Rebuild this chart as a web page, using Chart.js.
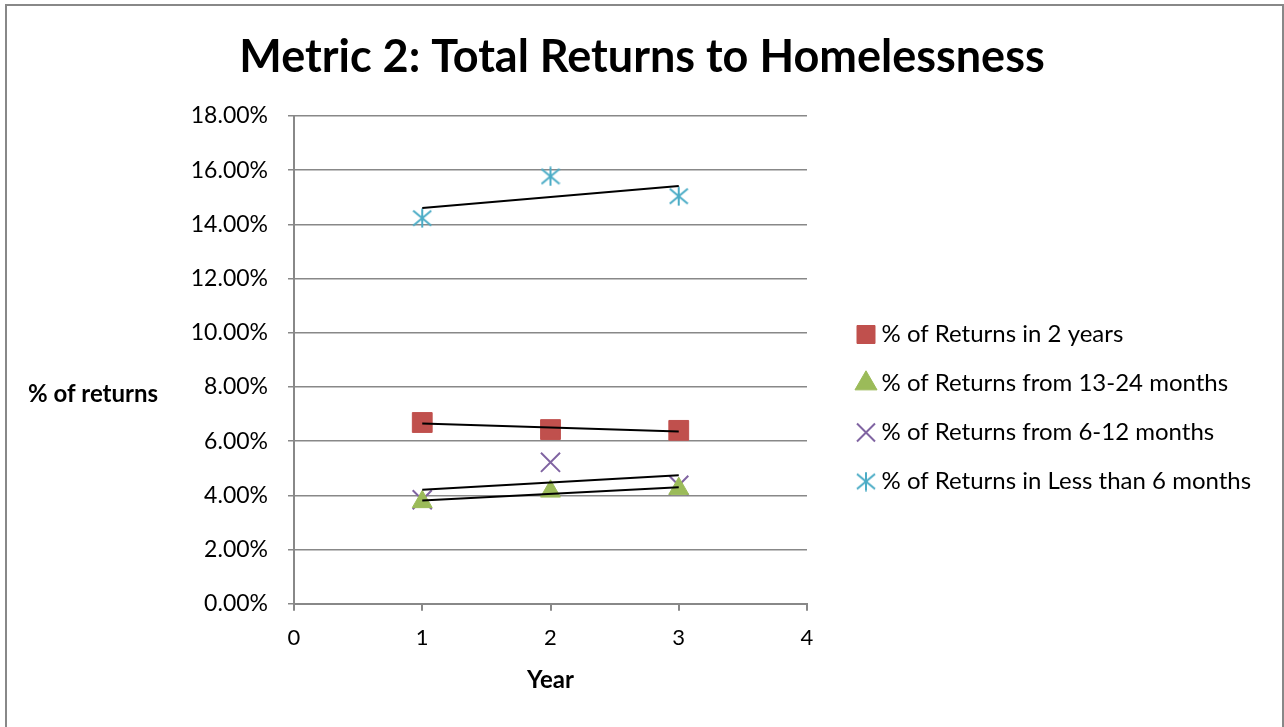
<!DOCTYPE html>
<html><head><meta charset="utf-8">
<script src="https://cdn.jsdelivr.net/npm/chart.js@4.4.1/dist/chart.umd.min.js"></script>
<style>
html,body{margin:0;padding:0;background:#fff;}
#wrap{position:relative;width:1284px;height:727px;overflow:hidden;}
#frame{position:absolute;left:5px;top:4px;width:1279px;height:760px;border:2px solid #888;box-sizing:border-box;}
#c{position:absolute;left:0;top:0;}
</style></head><body>
<div id="wrap"><div id="frame"></div><canvas id="c" width="1284" height="727"></canvas></div>
<script>
const chartTitle = 'Metric 2: Total Returns to Homelessness';
const xAxisTitle = 'Year';
const yAxisTitle = '% of returns';
const years = [1, 2, 3];
const seriesNames = ['% of Returns in 2 years', '% of Returns from 13-24 months', '% of Returns from 6-12 months', '% of Returns in Less than 6 months'];
const returns2Years = [6.69, 6.43, 6.40];
const returns13to24Months = [3.76, 4.15, 4.25];
const returns6to12Months = [3.84, 5.22, 4.37];
const returnsUnder6Months = [14.23, 15.77, 15.04];
const xTickValues = [0, 1, 2, 3, 4];
const yTickValues = [0, 2, 4, 6, 8, 10, 12, 14, 16, 18];

const FONT = 'Lato';
const seriesValues = [returns2Years, returns13to24Months, returns6to12Months, returnsUnder6Months];
const colors = ['#C0504D', '#9BBB59', '#8064A2', '#4BACC6'];

// asterisk marker
function asterisk(size, color) {
  const c = document.createElement('canvas');
  c.width = size; c.height = size;
  const g = c.getContext('2d');
  g.strokeStyle = color; g.lineWidth = 2; g.lineCap = 'butt';
  const m = size / 2, r = size / 2 - 0.5;
  g.beginPath();
  g.moveTo(m, m - r); g.lineTo(m, m + r);
  g.moveTo(m - r * 0.95, m - r * 0.8); g.lineTo(m + r * 0.95, m + r * 0.8);
  g.moveTo(m + r * 0.95, m - r * 0.8); g.lineTo(m - r * 0.95, m + r * 0.8);
  g.stroke();
  return c;
}
const pointStyles = ['rect', 'triangle', 'crossRot', asterisk(20, colors[3])];
const pointRadii = [14, 11.5, 13.5, 10];

// linear trend (least squares) from the series values
function trend(xs, ys) {
  const n = xs.length;
  const mx = xs.reduce((a, b) => a + b, 0) / n;
  const my = ys.reduce((a, b) => a + b, 0) / n;
  let sxy = 0, sxx = 0;
  for (let i = 0; i < n; i++) { sxy += (xs[i] - mx) * (ys[i] - my); sxx += (xs[i] - mx) ** 2; }
  const b = sxy / sxx, a = my - b * mx;
  const x0 = Math.min(...xs), x1 = Math.max(...xs);
  return [{x: x0, y: a + b * x0}, {x: x1, y: a + b * x1}];
}

const trendSets = seriesValues.map((vals) => ({
  label: 'trend',
  data: trend(years, vals),
  showLine: true,
  borderColor: '#000',
  borderWidth: 2,
  pointRadius: 0,
  pointHoverRadius: 0
}));
const markerSets = seriesValues.map((vals, i) => ({
  label: seriesNames[i],
  data: years.map((x, j) => ({x, y: vals[j]})),
  showLine: false,
  pointStyle: pointStyles[i],
  pointRadius: pointRadii[i],
  pointHoverRadius: pointRadii[i],
  backgroundColor: colors[i],
  borderColor: colors[i],
  borderWidth: i === 2 ? 2 : 1
}));

// legend geometry
const LEG_FONT = 24, LEG_PAD = 25, LEG_BOXW = 7, LEG_BOXH = 18;
const mctx = document.createElement('canvas').getContext('2d');
mctx.font = LEG_FONT + 'px ' + FONT;
const maxText = Math.max(...seriesNames.map(s => mctx.measureText(s).width));
const legendWidth = LEG_PAD + LEG_BOXW + LEG_FONT / 2 + maxText + 10;
const legendLeft = 837.5;
const gapWidth = legendLeft - 807;
const padRight = Math.max(0, 1284 - legendLeft - legendWidth);

const yTitlePlugin = {
  id: 'yTitle',
  afterDraw(chart) {
    const ctx = chart.ctx;
    ctx.save();
    ctx.font = 'bold 24px ' + FONT;
    ctx.fillStyle = '#000';
    ctx.textAlign = 'center';
    ctx.textBaseline = 'middle';
    ctx.fillText(yAxisTitle, 93, (chart.chartArea.top + chart.chartArea.bottom) / 2 + 34);
    ctx.restore();
  }
};

Chart.defaults.color = '#000';
Chart.defaults.font.family = FONT;

const hiddenAxis = (w, weight) => ({
  position: 'right', display: true, weight,
  min: 0, max: 18,
  ticks: { display: false },
  grid: { display: false },
  border: { display: false },
  afterFit: (s) => { s.width = w; }
});

new Chart(document.getElementById('c'), {
  type: 'scatter',
  data: { datasets: [...trendSets, ...markerSets] },
  options: {
    responsive: false,
    animation: false,
    events: [],
    layout: { padding: { left: 0, right: 0, top: 0, bottom: 28 } },
    plugins: {
      title: {
        display: true, text: chartTitle,
        font: { size: 45, weight: 'bold', family: FONT },
        color: '#000',
        padding: { top: 30, bottom: 32 }
      },
      legend: {
        position: 'right',
        align: 'center',
        maxWidth: 600,
        title: { display: true, text: ' ', font: { size: 10 }, padding: { top: 0, bottom: 105 } },
        labels: {
          usePointStyle: true,
          boxWidth: LEG_BOXW, boxHeight: LEG_BOXH,
          padding: LEG_PAD,
          font: { size: LEG_FONT, family: FONT },
          color: '#000',
          filter: (item) => item.datasetIndex >= 4
        }
      },
      tooltip: { enabled: false }
    },
    scales: {
      x: {
        type: 'linear',
        min: xTickValues[0], max: xTickValues[xTickValues.length - 1],
        afterBuildTicks: (s) => { s.ticks = xTickValues.map(v => ({value: v})); },
        ticks: { font: { size: 22, family: FONT }, color: '#000', padding: 14 },
        grid: { color: 'rgba(0,0,0,0)', tickColor: '#888', tickLength: 7, lineWidth: 2 },
        border: { color: '#888', width: 2 },
        title: { display: true, text: xAxisTitle, font: { size: 24, weight: 'bold', family: FONT }, color: '#000', padding: { top: 1, bottom: 4 } }
      },
      y: {
        min: yTickValues[0], max: yTickValues[yTickValues.length - 1],
        afterBuildTicks: (s) => { s.ticks = yTickValues.map(v => ({value: v})); },
        ticks: { font: { size: 23, family: FONT }, color: '#000', padding: 20, callback: (v) => v.toFixed(2) + '%' },
        grid: { color: '#888', tickColor: '#888', tickLength: 6, lineWidth: 1.5 },
        border: { color: '#888', width: 2 },
        afterFit: (s) => { s.width = 294; }
      },
      gap: hiddenAxis(gapWidth, 0),
      edge: hiddenAxis(padRight, 5000)
    }
  },
  plugins: [yTitlePlugin]
});
</script>
</body></html>
